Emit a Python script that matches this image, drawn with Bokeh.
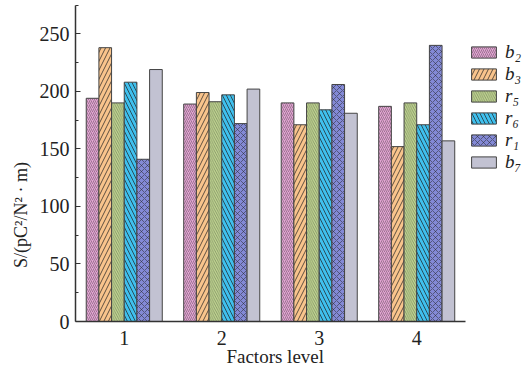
from bokeh.plotting import figure
from bokeh.models import ColumnDataSource, FixedTicker, Legend, LegendItem, Range1d
from bokeh.transform import dodge
from bokeh.embed import file_html
from bokeh.resources import INLINE

levels = [1, 2, 3, 4]
series = ["b2", "b3", "r5", "r6", "r1", "b7"]
labels = ["b\u2082", "b\u2083", "r\u2085", "r\u2086", "r\u2081", "b\u2087"]
b2 = [194, 189, 190, 187]
b3 = [238, 199, 171, 152]
r5 = [190, 191, 190, 190]
r6 = [208, 197, 184, 171]
r1 = [141, 172, 206, 240]
b7 = [219, 202, 181, 157]
y_ticks = [0, 50, 100, 150, 200, 250]
y_minor = [25, 75, 125, 175, 225, 275]

colors = ["#e2a4d2", "#f9c48c", "#c3d993", "#3fc0ee", "#8389d6", "#c2c2d2"]
hatches = ["/", "/", "\\", "\\", "x", " "]
hscale = [4, 9, 4.5, 8, 6, 6]
hweight = [0.6, 0.9, 0.6, 0.9, 0.7, 0.8]
halpha = [0.6, 0.8, 0.6, 0.8, 0.7, 0.8]

src = ColumnDataSource(dict(x=levels, b2=b2, b3=b3, r5=r5, r6=r6, r1=r1, b7=b7))

p = figure(width=522, height=369, output_backend="svg", toolbar_location=None,
           x_range=Range1d(0.5, 5.085), y_range=Range1d(0, 279),
           min_border_top=0, min_border_right=0, min_border_left=75, min_border_bottom=47)
p.grid.visible = False
p.outline_line_color = None

w = 0.13
items = []
for i, s in enumerate(series):
    off = (i - 2.5) * w
    r = p.vbar(x=dodge("x", off), top=s, width=w, source=src,
               fill_color=colors[i], line_color="#444444", line_width=1,
               hatch_pattern=hatches[i], hatch_scale=hscale[i], hatch_weight=hweight[i],
               hatch_color="#222222", hatch_alpha=halpha[i])
    items.append(LegendItem(label=labels[i], renderers=[r]))

legend = Legend(items=items, location=(393, 148), padding=0, margin=0, spacing=0,
                glyph_width=31, glyph_height=14, label_standoff=6,
                label_text_font="Liberation Serif", label_text_font_size="19px",
                label_text_font_style="italic", label_height=14,
                label_text_color="#222222",
                background_fill_alpha=0, border_line_color=None)
p.add_layout(legend)

p.xaxis.ticker = FixedTicker(ticks=levels)
p.xaxis.major_tick_line_color = None
p.xaxis.minor_tick_line_color = None
p.xaxis.bounds = (0.5, 4.5)
p.yaxis.ticker = FixedTicker(ticks=y_ticks, minor_ticks=y_minor)
p.yaxis.bounds = (0, 275)
for ax in (p.xaxis, p.yaxis):
    ax.axis_line_color = "#333333"
    ax.axis_line_width = 1.5
    ax.major_label_text_font = "Liberation Serif"
    ax.major_label_text_font_size = "20px"
    ax.major_label_text_color = "#222222"
    ax.axis_label_text_font = "Liberation Serif"
    ax.axis_label_text_font_size = "19px"
    ax.axis_label_text_font_style = "normal"
    ax.axis_label_text_color = "#222222"
p.yaxis.major_tick_in = 5
p.yaxis.major_tick_out = 0
p.yaxis.minor_tick_in = 3
p.yaxis.minor_tick_out = 0
p.yaxis.major_tick_line_color = "#333333"
p.yaxis.minor_tick_line_color = "#333333"
p.yaxis.major_label_standoff = 6
p.xaxis.major_label_standoff = 3
p.xaxis.axis_label = "Factors level" + "\u00a0" * 10
p.xaxis.axis_label_standoff = -2
p.yaxis.axis_label = "S/(pC\u00b2/N\u00b2 \u00b7 m)" + "\u00a0" * 24
p.yaxis.axis_label_text_font_size = "18px"
p.yaxis.axis_label_standoff = 6

open("out.html", "w").write(file_html(p, INLINE))
